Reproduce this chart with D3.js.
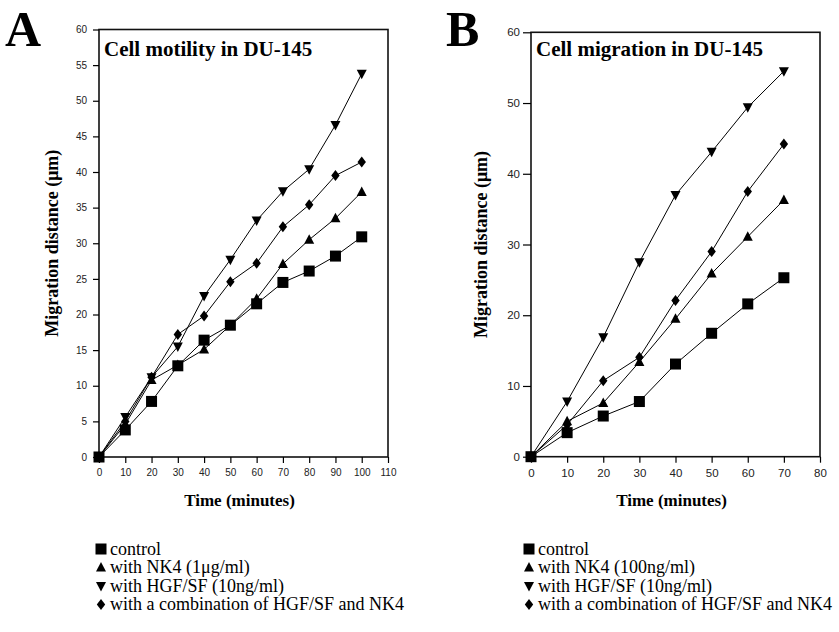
<!DOCTYPE html>
<html>
<head>
<meta charset="utf-8">
<script src="https://cdn.jsdelivr.net/npm/d3@7"></script>
<style>
  body { margin: 0; background: #fff; }
  svg { display: block; }
</style>
</head>
<body>
<svg id="chart" width="839" height="632"></svg>
<script>
// panel A: cell motility, time 0..100
const timeA = [0, 10, 20, 30, 40, 50, 60, 70, 80, 90, 100];
const controlA = [0, 3.8, 7.8, 12.8, 16.4, 18.5, 21.5, 24.5, 26.1, 28.2, 30.9];
const nk4A = [0, 4.6, 10.8, 12.9, 15.1, 18.5, 22.2, 27.1, 30.5, 33.5, 37.2];
const hgfA = [0, 5.6, 11.2, 15.5, 22.6, 27.7, 33.2, 37.3, 40.4, 46.6, 53.8];
const comboA = [0, 5.0, 11.2, 17.2, 19.8, 24.6, 27.2, 32.3, 35.4, 39.5, 41.4];

// panel B: cell migration, time 0..70
const timeB = [0, 10, 20, 30, 40, 50, 60, 70];
const controlB = [0, 3.4, 5.75, 7.8, 13.1, 17.45, 21.6, 25.3];
const nk4B = [0, 5.0, 7.6, 13.4, 19.5, 25.9, 31.1, 36.3];
const hgfB = [0, 7.8, 16.9, 27.5, 37.0, 43.1, 49.4, 54.5];
const comboB = [0, 4.5, 10.75, 14.05, 22.1, 29.0, 37.5, 44.2];

const legendA = ["control", "with NK4 (1\u03bcg/ml)", "with HGF/SF (10ng/ml)", "with a combination of HGF/SF and NK4"];
const legendB = ["control", "with NK4 (100ng/ml)", "with HGF/SF (10ng/ml)", "with a combination of HGF/SF and NK4"];

const svg = d3.select('#chart');
const serif = '"Liberation Serif", "Times New Roman", serif';
const sans = '"Liberation Sans", Arial, sans-serif';

// marker shapes: square, up triangle, down triangle, diamond
function marker(g, kind, x, y) {
    if (kind === 0) {
        g.append('rect').attr('x', x - 5.5).attr('y', y - 5.5).attr('width', 11).attr('height', 11).attr('fill', '#000');
    } else if (kind === 1) {
        g.append('path').attr('d', `M${x},${y - 5.5}L${x + 5},${y + 4}L${x - 5},${y + 4}Z`).attr('fill', '#000');
    } else if (kind === 2) {
        g.append('path').attr('d', `M${x},${y + 5.5}L${x + 5},${y - 4}L${x - 5},${y - 4}Z`).attr('fill', '#000');
    } else {
        g.append('path').attr('d', `M${x},${y - 5.5}L${x + 4.2},${y}L${x},${y + 5.5}L${x - 4.2},${y}Z`).attr('fill', '#000');
    }
}

function drawPanel(cfg) {
    const g = svg.append('g');
    const x = d3.scaleLinear().domain([0, cfg.xMax]).range([cfg.left, cfg.right]);
    const y = d3.scaleLinear().domain([0, 60]).range([cfg.bottom, cfg.top]);

    // frame
    g.append('rect')
        .attr('x', cfg.left).attr('y', cfg.top)
        .attr('width', cfg.right - cfg.left).attr('height', cfg.bottom - cfg.top)
        .attr('fill', 'none').attr('stroke', '#111').attr('stroke-width', 1.6);

    const xAxis = g.append('g').attr('transform', `translate(0,${cfg.bottom})`)
        .call(d3.axisBottom(x).tickValues(d3.range(0, cfg.xMax + 1, 10)).tickSize(6).tickPadding(6));
    const yAxis = g.append('g').attr('transform', `translate(${cfg.left},0)`)
        .call(d3.axisLeft(y).tickValues(d3.range(0, 61, cfg.yStep)).tickSize(cfg.yTick).tickPadding(cfg.yPad));
    [xAxis, yAxis].forEach(a => {
        a.select('.domain').remove();
        a.selectAll('line').attr('stroke', '#000').attr('stroke-width', 1.2);
        a.selectAll('text').attr('font-family', sans).attr('font-size', cfg.tickSize).attr('fill', '#222');
    });

    const line = d3.line().x(d => x(d[0])).y(d => y(d[1]));
    cfg.series.forEach((s, k) => {
        const pts = cfg.time.map((t, i) => [t, s[i]]);
        g.append('path').datum(pts).attr('d', line)
            .attr('fill', 'none').attr('stroke', '#000').attr('stroke-width', 1);
        pts.forEach(p => marker(g, k, x(p[0]), y(p[1])));
    });

    // big panel letter
    svg.append('text').attr('x', cfg.letterX).attr('y', 46)
        .attr('font-family', serif).attr('font-weight', 'bold').attr('font-size', 50)
        .text(cfg.letter);

    g.append('text').attr('x', cfg.left + 5).attr('y', 56)
        .attr('font-family', serif).attr('font-weight', 'bold').attr('font-size', 21)
        .text(cfg.title);

    g.append('text')
        .attr('transform', `translate(${cfg.yLabelX},${(cfg.top + cfg.bottom) / 2}) rotate(-90)`)
        .attr('text-anchor', 'middle')
        .attr('font-family', serif).attr('font-weight', 'bold').attr('font-size', 18)
        .text('Migration distance (\u03bcm)');

    g.append('text').attr('x', (cfg.left + cfg.right) / 2 - 4).attr('y', 506)
        .attr('text-anchor', 'middle')
        .attr('font-family', serif).attr('font-weight', 'bold').attr('font-size', 17)
        .text('Time (minutes)');

    // legend
    cfg.legend.forEach((lab, k) => {
        const ly = 549 + k * 18.5;
        marker(g, k, cfg.legendX + 5, ly);
        g.append('text').attr('x', cfg.legendX + 14).attr('y', ly + 5.5)
            .attr('font-family', serif).attr('font-size', 18)
            .text(lab);
    });
}

drawPanel({
    letter: 'A', letterX: 5, title: 'Cell motility in DU-145',
    left: 99, right: 388, top: 29.5, bottom: 457, xMax: 110, yStep: 5,
    tickSize: 10, yTick: 6, yPad: 6, yLabelX: 58, legendX: 96,
    time: timeA, series: [controlA, nk4A, hgfA, comboA], legend: legendA
});

drawPanel({
    letter: 'B', letterX: 446, title: 'Cell migration in DU-145',
    left: 531, right: 820, top: 32.3, bottom: 456.7, xMax: 80, yStep: 10,
    tickSize: 11.5, yTick: 8, yPad: 3, yLabelX: 487, legendX: 524,
    time: timeB, series: [controlB, nk4B, hgfB, comboB], legend: legendB
});
</script>
</body>
</html>
